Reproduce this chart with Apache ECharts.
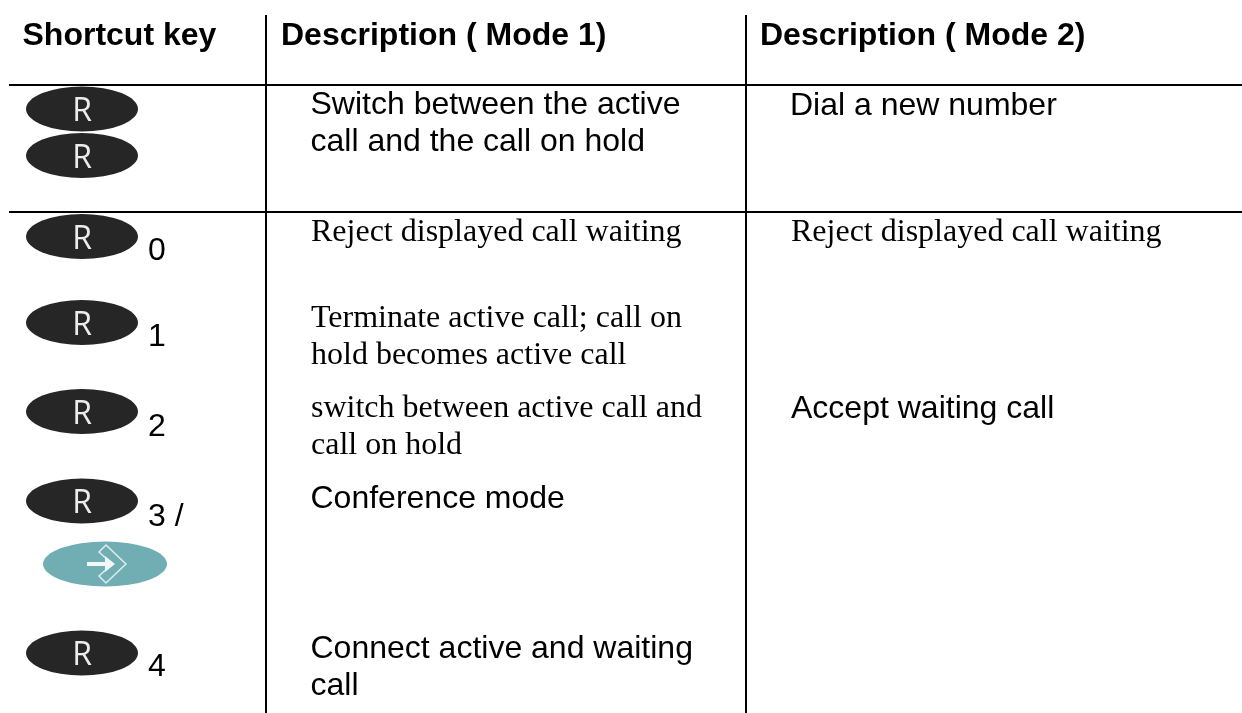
<!DOCTYPE html>
<html>
<head>
<meta charset="utf-8">
<style>
html, body { margin: 0; padding: 0; background: #fff; }
#main { width: 1242px; height: 713px; }
</style>
<script src="https://cdn.jsdelivr.net/npm/echarts@6/dist/echarts.min.js"></script>
</head>
<body>
<div id="main"></div>
<script>
// table content
const headers = ["Shortcut key", "Description ( Mode 1)", "Description ( Mode 2)"];
const keyLabels = ["R", "R", "R", "R", "R", "R", "R"];
const keyDigits = ["0", "1", "2", "3 /", "4"];
const mode1Sans = ["Switch between the active\ncall and the call on hold", "Conference mode", "Connect active and waiting\ncall"];
const mode1Serif = ["Reject displayed call waiting", "Terminate active call; call on\nhold becomes active call", "switch between active call and\ncall on hold"];
const mode2Sans = ["Dial a new number", "Accept waiting call"];
const mode2Serif = ["Reject displayed call waiting"];

// layout, page pixels
const headerPos = [[22.5, 34], [281, 34], [760, 34]];
const keyPos = [[82, 109], [82, 155.5], [82, 236.5], [82, 322.5], [82, 411.5], [82, 501], [82, 653]];
const digitPos = [[148, 249], [148, 335], [148, 425], [148, 515], [148, 665]];
const mode1SansPos = [[310.5, 122], [310.5, 497], [310.5, 665.5]];
const mode1SerifPos = [[311, 231], [311, 335.5], [311, 425.5]];
const mode2SansPos = [[790, 104], [791, 407]];
const mode2SerifPos = [[791, 231]];
const enterPos = [[105, 564]];
const rules = [
    [[9, 85], [1242, 85]],
    [[9, 212], [1242, 212]],
    [[266, 15], [266, 713]],
    [[746, 15], [746, 713]],
];

const SANS = '"Liberation Sans", Arial, sans-serif';
const SERIF = '"Liberation Serif", "Times New Roman", serif';

const arrowPath = "path://M0 6 L18 6 L18 0 L28 8 L18 16 L18 10 L0 10 Z";
const chevronPath = "path://M7 0 L27 19 L7 38 L0 31 L13 19 L0 7 Z";

const toData = (texts, pos) => texts.map((name, i) => ({ name, value: pos[i] }));

const textSeries = (name, texts, pos, label) => ({
    name,
    type: "scatter",
    symbolSize: 0,
    silent: true,
    data: toData(texts, pos),
    itemStyle: { opacity: 1 },
    label: Object.assign(
        {
            show: true,
            position: "right",
            distance: 0,
            offset: [0, 2],
            color: "#000",
            formatter: "{b}",
            fontSize: 32,
            lineHeight: 37,
        },
        label
    ),
});

const option = {
    animation: false,
    backgroundColor: "#fff",
    grid: { left: 0, right: 0, top: 0, bottom: 0 },
    xAxis: { type: "value", min: 0, max: 1242, show: false },
    yAxis: { type: "value", min: 0, max: 713, inverse: true, show: false },
    series: [
        {
            name: "rules",
            type: "lines",
            coordinateSystem: "cartesian2d",
            silent: true,
            data: rules.map(coords => ({ coords })),
            lineStyle: { color: "#000", width: 2, opacity: 1 },
        },
        {
            name: "keys",
            type: "scatter",
            symbol: "circle",
            symbolSize: [112, 45],
            silent: true,
            data: toData(keyLabels, keyPos),
            itemStyle: { color: "#262626", opacity: 1 },
            label: {
                show: true,
                position: "inside",
                offset: [0, 3],
                formatter: "{b}",
                color: "#ececec",
                fontFamily: '"Open Sans", sans-serif',
                fontSize: 32,
            },
        },
        {
            name: "enter",
            type: "scatter",
            symbol: "circle",
            symbolSize: [124, 45],
            silent: true,
            data: enterPos,
            itemStyle: { color: "#70aeb4", opacity: 1 },
        },
        {
            name: "enterChevron",
            type: "scatter",
            symbol: chevronPath,
            symbolSize: [27, 38],
            symbolOffset: [7.5, 0],
            silent: true,
            data: enterPos,
            itemStyle: { color: "rgba(0,0,0,0)", borderColor: "#d8eaec", borderWidth: 1.5, opacity: 1 },
        },
        {
            name: "enterArrow",
            type: "scatter",
            symbol: arrowPath,
            symbolSize: [28, 16],
            symbolOffset: [-4, 0],
            silent: true,
            data: enterPos,
            itemStyle: { color: "#f0f7f7", opacity: 1 },
        },
        textSeries("headers", headers, headerPos, { fontFamily: SANS, fontWeight: "bold" }),
        textSeries("digits", keyDigits, digitPos, { fontFamily: SANS }),
        textSeries("mode1Sans", mode1Sans, mode1SansPos, { fontFamily: SANS }),
        textSeries("mode1Serif", mode1Serif, mode1SerifPos, { fontFamily: SERIF }),
        textSeries("mode2Sans", mode2Sans, mode2SansPos, { fontFamily: SANS }),
        textSeries("mode2Serif", mode2Serif, mode2SerifPos, { fontFamily: SERIF }),
    ],
};

const myChart = echarts.init(document.getElementById("main"));
myChart.setOption(option);
</script>
</body>
</html>
